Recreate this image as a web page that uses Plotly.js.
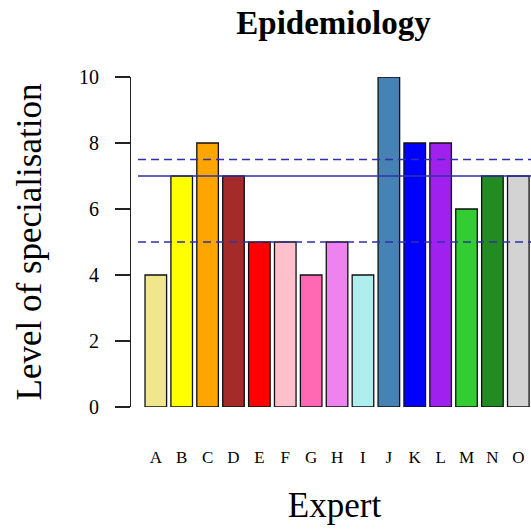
<!DOCTYPE html>
<html>
<head>
<meta charset="utf-8">
<script src="https://cdn.plot.ly/plotly-3.0.1.min.js"></script>
<style>html,body{margin:0;padding:0;background:#fff;}#chart{width:531px;height:530px;}</style>
</head>
<body>
<div id="chart"></div>
<script>
const experts = ["A","B","C","D","E","F","G","H","I","J","K","L","M","N","O"];
const levels = [4,7,8,7,5,5,4,5,4,10,8,8,6,7,7];
const barColors = ["#F0E68C","#FFFF00","#FFA500","#A52A2A","#FF0000","#FFC0CB","#FF69B4","#EE82EE","#AFEEEE","#4682B4","#0000FF","#A020F0","#32CD32","#228B22","#D3D3D3"];
const yTicks = [0,2,4,6,8,10];
const solidLines = [7];
const dashedLines = [7.5,5];

const serif = "Liberation Serif";
const shapes = [];
solidLines.forEach(v => shapes.push({type:"line", xref:"x domain", x0:0, x1:1, yref:"y", y0:v, y1:v,
  line:{color:"#3030A8", width:1.4}}));
dashedLines.forEach(v => shapes.push({type:"line", xref:"x domain", x0:0, x1:1, yref:"y", y0:v, y1:v,
  line:{color:"#3030A8", width:1.4, dash:"8px,5px"}}));

const trace = {
  type:"bar", x:experts, y:levels,
  marker:{color:barColors, line:{color:"#111", width:1.3}},
  hoverinfo:"skip"
};
const layout = {
  width:531, height:530,
  margin:{l:130, r:0, t:77, b:123},
  paper_bgcolor:"#fff", plot_bgcolor:"#fff",
  showlegend:false,
  bargap:0.1667,
  font:{family:serif},
  title:{text:"<b>Epidemiology</b>", font:{family:serif, size:33, color:"#000"},
    xref:"container", x:0.628, xanchor:"center", yref:"container", y:0.958, yanchor:"middle"},
  xaxis:{domain:[0.02,1], range:[-0.687,14.49], showline:false, showgrid:false, zeroline:false,
    ticks:"", tickfont:{family:serif, size:17, color:"#000"}, ticklabelstandoff:38,
    title:{text:"Expert", font:{family:serif, size:35, color:"#000"}, standoff:26}},
  yaxis:{anchor:"free", position:0, range:[0,10], tickvals:yTicks, showgrid:false, zeroline:false,
    showline:true, linecolor:"#222", linewidth:1.3, ticks:"outside", ticklen:15, tickwidth:1.3, tickcolor:"#222",
    tickfont:{family:serif, size:20, color:"#000"}, ticklabelstandoff:12,
    title:{text:"Level of specialisation", font:{family:serif, size:35, color:"#000"}, standoff:25}},
  shapes:shapes
};
Plotly.newPlot("chart", [trace], layout, {staticPlot:true, displayModeBar:false});
</script>
</body>
</html>
